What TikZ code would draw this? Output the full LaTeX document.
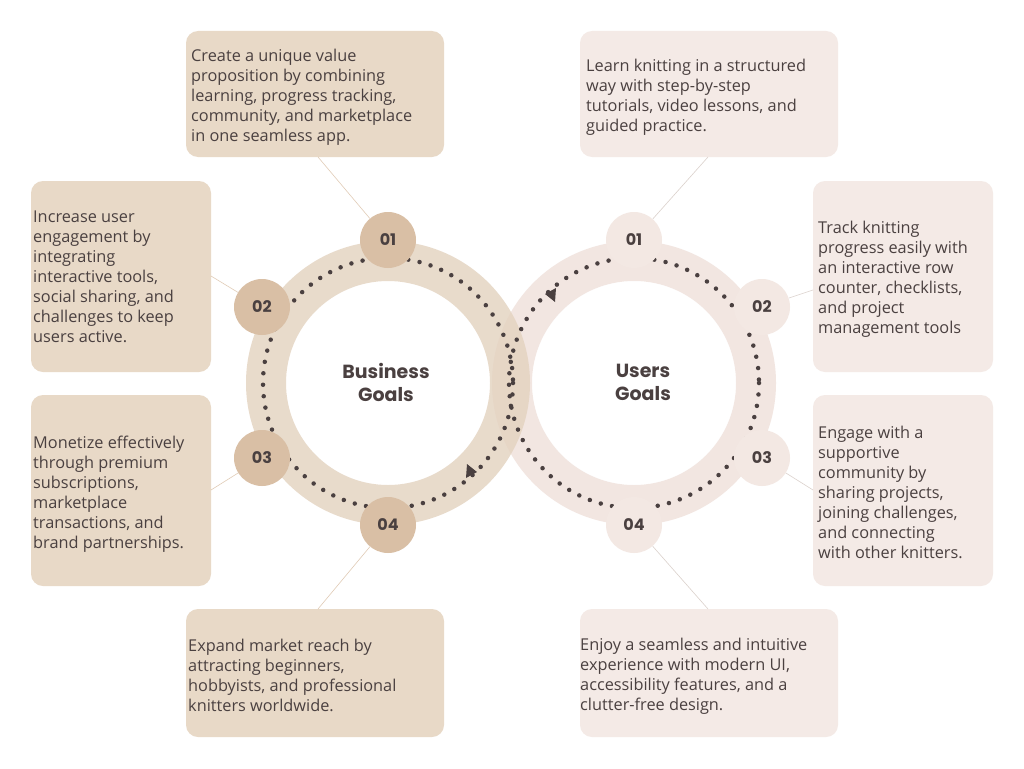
\documentclass[tikz,border=0pt]{standalone}
\usepackage{fontspec}
\setmainfont{Open Sans}
\newfontfamily\pop{Poppins}
\usetikzlibrary{arrows.meta}
\definecolor{lbox}{HTML}{E8D9C7}
\definecolor{rbox}{HTML}{F4EAE6}
\definecolor{lnum}{HTML}{D9BFA5}
\definecolor{rnum}{HTML}{F3E8E3}
\definecolor{txt}{HTML}{4A4040}
\definecolor{lring}{HTML}{E3D2BF}
\definecolor{rring}{HTML}{F2E6E1}
\begin{document}
\begin{tikzpicture}[x=1pt,y=-1pt,
  box/.style={rounded corners=12pt,inner sep=0pt},
  txtn/.style={anchor=north west,align=left,inner sep=0pt,text=txt,font=\fontsize{16.3}{20}\selectfont},
  num/.style={circle,minimum size=56pt,inner sep=0pt,text=txt,font=\pop\bfseries\fontsize{16}{18}\selectfont},
  conn/.style={draw=lnum!80,line width=0.6pt},
  rconn/.style={draw=rnum!90!black,line width=0.6pt},
  dots/.style={draw=txt,line width=4.5pt,line cap=round,dash pattern=on 0pt off 11.5pt}]
\useasboundingbox (0,0) rectangle (1024,768);
\fill[white] (0,0) rectangle (1024,768);
% rings
\fill[rring,even odd rule] (634,383) circle (142) (634,383) circle (102);
\fill[lring,opacity=0.8,even odd rule] (388,383) circle (142) (388,383) circle (102);
\fill[white,opacity=0.35] (634,383) circle (102);
% dotted circles
\draw[dots] (388,383) circle (125);
\draw[dots] (634,383) circle (125);
\fill[txt] (466,478) -- ++(1,-14) -- ++(10,8) -- cycle;
\fill[txt] (556,288) -- ++(-1,14) -- ++(-10,-8) -- cycle;
% center labels
\node[text=txt,font=\pop\bfseries\fontsize{19}{23}\selectfont,align=center] (bg) at (386,382) {Business\\ Goals};
\node[text=txt,font=\pop\bfseries\fontsize{19}{23}\selectfont,align=center] (ug) at (643,382) {Users\\Goals};
% boxes
\filldraw[box,fill=lbox,draw=none] (186,31) rectangle (444,157); \coordinate (bl1) at (318,157);
\filldraw[box,fill=lbox,draw=none] (31,181) rectangle (211,372); \coordinate (bl2) at (211,276);
\filldraw[box,fill=lbox,draw=none] (31,395) rectangle (211,586); \coordinate (bl3) at (211,490);
\filldraw[box,fill=lbox,draw=none] (186,609) rectangle (444,737); \coordinate (bl4) at (318,609);
\filldraw[box,fill=rbox,draw=none] (580,31) rectangle (838,157); \coordinate (br1) at (708,157);
\filldraw[box,fill=rbox,draw=none] (813,181) rectangle (993,372); \coordinate (br2) at (813,290);
\filldraw[box,fill=rbox,draw=none] (813,395) rectangle (993,586); \coordinate (br3) at (813,490);
\filldraw[box,fill=rbox,draw=none] (580,609) rectangle (838,737); \coordinate (br4) at (708,609);
% number circles
\node[num,fill=lnum] (l1) at (388,240) {01};
\node[num,fill=lnum] (l2) at (262,307) {02};
\node[num,fill=lnum] (l3) at (262,458) {03};
\node[num,fill=lnum] (l4) at (388,525) {04};
\node[num,fill=rnum] (r1) at (634,240) {01};
\node[num,fill=rnum] (r2) at (762,307) {02};
\node[num,fill=rnum] (r3) at (762,458) {03};
\node[num,fill=rnum] (r4) at (634,525) {04};
% connectors
\draw[conn] (bl1) -- (l1);
\draw[conn] (bl2) -- (l2);
\draw[conn] (bl3) -- (l3);
\draw[conn] (bl4) -- (l4);
\draw[rconn] (br1) -- (r1);
\draw[rconn] (br2) -- (r2);
\draw[rconn] (br3) -- (r3);
\draw[rconn] (br4) -- (r4);
% texts
\node[txtn] (t1) at (191,49) {Create a unique value\\proposition by combining\\learning, progress tracking,\\community, and marketplace\\in one seamless app.};
\node[txtn] (t2) at (33,211) {Increase user\\engagement by\\integrating\\interactive tools,\\social sharing, and\\challenges to keep\\users active.};
\node[txtn] (t3) at (33,436) {Monetize effectively\\through premium\\subscriptions,\\marketplace\\transactions, and\\brand partnerships.};
\node[txtn] (t4) at (188,639) {Expand market reach by\\attracting beginners,\\hobbyists, and professional\\knitters worldwide.};
\node[txtn] (u1) at (586,59) {Learn knitting in a structured\\way with step-by-step\\tutorials, video lessons, and\\guided practice.};
\node[txtn] (u2) at (818,221) {Track knitting\\progress easily with\\an interactive row\\counter, checklists,\\and project\\management tools};
\node[txtn] (u3) at (818,426) {Engage with a\\supportive\\community by\\sharing projects,\\joining challenges,\\and connecting\\with other knitters.};
\node[txtn] (u4) at (580,638) {Enjoy a seamless and intuitive\\experience with modern UI,\\accessibility features, and a\\clutter-free design.};
\end{tikzpicture}
\end{document}
